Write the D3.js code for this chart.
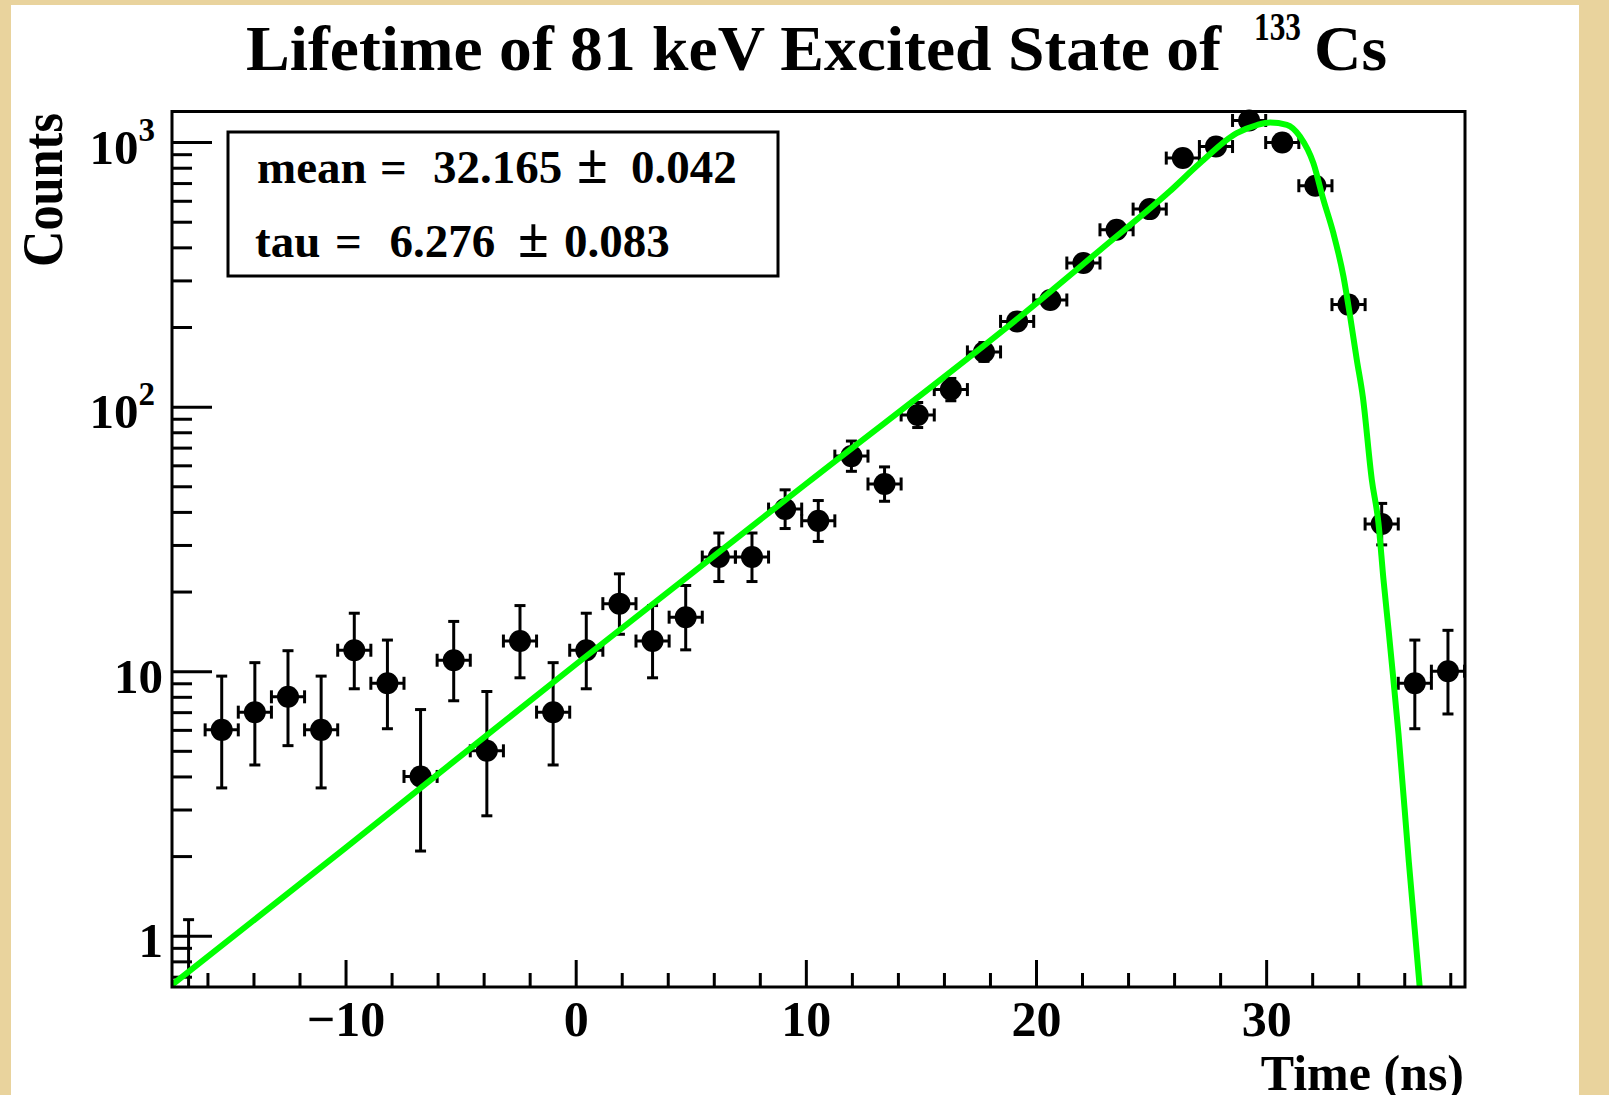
<!DOCTYPE html>
<html>
<head>
<meta charset="utf-8">
<script src="https://cdn.jsdelivr.net/npm/d3@7"></script>
<style>
body { margin: 0; background: #fff; }
svg { display: block; }
text { font-family: "Liberation Serif", "Times New Roman", serif; font-weight: bold; fill: #000; }
</style>
</head>
<body>
<svg id="chart" width="1609" height="1095"></svg>
<script>
// histogram bins (bin centre in ns, counts, poisson error bars)
var binTime = [-16.82, -15.38, -13.94, -12.50, -11.06, -9.62, -8.18, -6.74, -5.30, -3.86,
               -2.42, -0.98, 0.46, 1.90, 3.34, 4.78, 6.22, 7.66, 9.10, 10.54,
               11.98, 13.42, 14.86, 16.30, 17.74, 19.18, 20.62, 22.06, 23.50, 24.94,
               26.38, 27.82, 29.26, 30.70, 32.14, 33.58, 35.02, 36.46, 37.90];
var binCount = [0, 6, 7, 8, 6, 12, 9, 4, 11, 5,
                13, 7, 12, 18, 13, 16, 27, 27, 41, 37,
                65, 51, 93, 116, 161, 210, 253, 349, 466, 558,
                870, 962, 1207, 996, 684, 243, 36, 9, 10];
var errLow = [0, 2.38, 2.58, 2.77, 2.38, 3.42, 2.94, 1.91, 3.27, 2.16,
              3.56, 2.58, 3.42, 4.21, 3.56, 3.96, 5.18, 5.18, 6.39, 6.07,
              8.05, 7.12, 9.64, 10.77, 12.69, 14.49, 15.91, 18.68, 21.59, 23.62,
              29.50, 31.02, 34.74, 31.56, 26.15, 15.59, 5.98, 2.94, 3.11];
var errHigh = [1.15, 3.58, 3.77, 3.95, 3.58, 4.56, 4.11, 3.16, 4.42, 3.38,
               4.70, 3.77, 4.56, 5.33, 4.70, 5.08, 6.29, 6.29, 7.47, 7.16,
               9.11, 8.18, 10.67, 11.79, 13.70, 15.50, 16.91, 19.68, 22.59, 24.62,
               30.50, 32.02, 35.74, 32.56, 27.15, 16.59, 7.07, 4.11, 4.27];
var binHalfWidth = 0.72;

// green fit curve, points picked along the drawn line
var fitTime = [-17.54, -10, 0, 10, 20, 22.8, 25.8, 27.13, 28.72, 29.6, 30.17, 30.9, 31.47, 32.05,
               32.49, 32.92, 33.36, 33.65, 33.94, 34.2, 34.59, 34.88, 35.1, 35.32, 35.53, 35.75, 36.2, 36.7];
var fitValue = [0.652, 2.15, 10.6, 51, 245, 392, 650, 833, 1081, 1160, 1186, 1162, 1050, 833,
                605, 453, 310, 219, 150, 109, 53, 36.3, 22.1, 14.3, 9.27, 5.8, 1.9, 0.6];

// axes
var xMajorTicks = [-10, 0, 10, 20, 30];
var xMinorTicks = [-16, -14, -12, -8, -6, -4, -2, 2, 4, 6, 8, 12, 14, 16, 18, 22, 24, 26, 28, 32, 34, 36, 38];
var yMajorTicks = [1, 10, 100, 1000];
var yTickBase = ["1", "10", "10", "10"];
var yTickExp = ["", "", "2", "3"];
var yMinorTicks = [0.7, 0.8, 0.9, 2, 3, 4, 5, 6, 7, 8, 9, 20, 30, 40, 50, 60, 70, 80, 90,
                   200, 300, 400, 500, 600, 700, 800, 900];

var svg = d3.select("#chart");

// parchment border round the canvas
svg.append("rect").attr("width", 1609).attr("height", 1095).attr("fill", "#e9d39d");
svg.append("rect").attr("x", 11).attr("y", 5).attr("width", 1568).attr("height", 1090).attr("fill", "#fff");

var frame = {left: 172, right: 1465, top: 111.5, bottom: 987};
var x = d3.scaleLinear().domain([-17.54, 38.64]).range([frame.left, frame.right]);
var y = d3.scaleLog().domain([0.64, 1305]).range([frame.bottom, frame.top]);

svg.append("clipPath").attr("id", "clip").append("rect")
    .attr("x", frame.left).attr("y", frame.top)
    .attr("width", frame.right - frame.left).attr("height", frame.bottom - frame.top);

function styleAxis(g) {
    g.select(".domain").remove();
    g.selectAll(".tick line").attr("stroke", "#000").attr("stroke-width", 3);
}

// x axis: major ticks with labels, minor ticks without
var gxMaj = svg.append("g").attr("transform", "translate(0," + frame.bottom + ")")
    .call(d3.axisBottom(x).tickValues(xMajorTicks).tickSize(-27).tickPadding(13));
styleAxis(gxMaj);
gxMaj.selectAll("text").attr("font-size", 50)
    .attr("font-family", "'Liberation Serif', serif").attr("font-weight", "bold").attr("fill", "#000");
var gxMin = svg.append("g").attr("transform", "translate(0," + frame.bottom + ")")
    .call(d3.axisBottom(x).tickValues(xMinorTicks).tickSize(-14).tickFormat(""));
styleAxis(gxMin);

// y axis ticks pointing inwards
var gyMaj = svg.append("g").attr("transform", "translate(" + frame.left + ",0)")
    .call(d3.axisLeft(y).tickValues(yMajorTicks).tickSize(-40).tickFormat(""));
styleAxis(gyMaj);
var gyMin = svg.append("g").attr("transform", "translate(" + frame.left + ",0)")
    .call(d3.axisLeft(y).tickValues(yMinorTicks).tickSize(-20).tickFormat(""));
styleAxis(gyMin);

var yl = svg.append("g").selectAll("text").data(yMajorTicks).join("text")
    .attr("text-anchor", "end").attr("font-size", 49)
    .attr("x", function (d, i) { return yTickExp[i] ? 155 : 163; })
    .attr("y", function (d) { return y(d) + 21.5; });
yl.append("tspan").text(function (d, i) { return yTickBase[i]; });
yl.append("tspan").attr("font-size", 33).attr("dy", -23).text(function (d, i) { return yTickExp[i]; });

// data points with error bars
var pts = binTime.map(function (t, i) {
    return {t: t, n: binCount[i], lo: errLow[i], hi: errHigh[i]};
});
var gp = svg.append("g").attr("stroke", "#000").attr("stroke-width", 3).attr("fill", "#000");
var hasLow = pts.filter(function (d) { return d.n - d.lo > 0; });
var filled = pts.filter(function (d) { return d.n > 0; });

gp.selectAll(".ev").data(pts).join("line").attr("class", "ev")
    .attr("x1", function (d) { return x(d.t); }).attr("x2", function (d) { return x(d.t); })
    .attr("y1", function (d) { return d.n - d.lo > 0 ? y(d.n - d.lo) : frame.bottom; })
    .attr("y2", function (d) { return y(d.n + d.hi); });
gp.selectAll(".capt").data(pts).join("line").attr("class", "capt")
    .attr("x1", function (d) { return x(d.t) - 5.5; }).attr("x2", function (d) { return x(d.t) + 5.5; })
    .attr("y1", function (d) { return y(d.n + d.hi); }).attr("y2", function (d) { return y(d.n + d.hi); });
gp.selectAll(".capb").data(hasLow).join("line").attr("class", "capb")
    .attr("x1", function (d) { return x(d.t) - 5.5; }).attr("x2", function (d) { return x(d.t) + 5.5; })
    .attr("y1", function (d) { return y(d.n - d.lo); }).attr("y2", function (d) { return y(d.n - d.lo); });
gp.selectAll(".eh").data(filled).join("line").attr("class", "eh")
    .attr("x1", function (d) { return x(d.t - binHalfWidth); }).attr("x2", function (d) { return x(d.t + binHalfWidth); })
    .attr("y1", function (d) { return y(d.n); }).attr("y2", function (d) { return y(d.n); });
gp.selectAll(".capl").data(filled).join("line").attr("class", "capl")
    .attr("x1", function (d) { return x(d.t - binHalfWidth); }).attr("x2", function (d) { return x(d.t - binHalfWidth); })
    .attr("y1", function (d) { return y(d.n) - 6.5; }).attr("y2", function (d) { return y(d.n) + 6.5; });
gp.selectAll(".capr").data(filled).join("line").attr("class", "capr")
    .attr("x1", function (d) { return x(d.t + binHalfWidth); }).attr("x2", function (d) { return x(d.t + binHalfWidth); })
    .attr("y1", function (d) { return y(d.n) - 6.5; }).attr("y2", function (d) { return y(d.n) + 6.5; });
gp.selectAll("circle").data(filled).join("circle")
    .attr("stroke", "none")
    .attr("cx", function (d) { return x(d.t); }).attr("cy", function (d) { return y(d.n); }).attr("r", 11);

// fit curve on top
var line = d3.line()
    .x(function (d) { return x(d[0]); })
    .y(function (d) { return y(d[1]); })
    .curve(d3.curveMonotoneX);
svg.append("path").datum(d3.zip(fitTime, fitValue))
    .attr("d", line).attr("fill", "none").attr("stroke", "#00ff00").attr("stroke-width", 6)
    .attr("clip-path", "url(#clip)");

// frame
svg.append("rect").attr("x", frame.left).attr("y", frame.top)
    .attr("width", frame.right - frame.left).attr("height", frame.bottom - frame.top)
    .attr("fill", "none").attr("stroke", "#000").attr("stroke-width", 3);

// fit results box
svg.append("rect").attr("x", 228).attr("y", 132).attr("width", 550).attr("height", 144)
    .attr("fill", "#fff").attr("stroke", "#000").attr("stroke-width", 3);
var stats = [
    {y: 183, parts: [["mean", 257], ["=", 380], ["32.165", 433], ["\u00b1", 577], ["0.042", 631]]},
    {y: 257, parts: [["tau", 255], ["=", 335], ["6.276", 389.5], ["\u00b1", 518], ["0.083", 564]]}
];
var st = svg.append("g").selectAll("text").data(stats).join("text")
    .attr("font-size", 47).attr("y", function (d) { return d.y; });
st.selectAll("tspan").data(function (d) { return d.parts; }).join("tspan")
    .attr("x", function (p) { return p[1]; })
    .attr("font-size", function (p) { return p[0] === "\u00b1" ? 56 : null; })
    .text(function (p) { return p[0]; });

// titles
svg.append("text").attr("x", 246).attr("y", 70).attr("font-size", 64)
    .attr("textLength", 975).attr("lengthAdjust", "spacingAndGlyphs")
    .text("Lifetime of 81 keV Excited State of");
svg.append("text").attr("x", 1254).attr("y", 40).attr("font-size", 40)
    .attr("textLength", 47).attr("lengthAdjust", "spacingAndGlyphs").text("133");
svg.append("text").attr("x", 1314).attr("y", 70).attr("font-size", 64)
    .attr("textLength", 73).attr("lengthAdjust", "spacingAndGlyphs").text("Cs");

svg.append("text").attr("x", 1464).attr("y", 1090).attr("font-size", 50)
    .attr("text-anchor", "end").text("Time (ns)");
svg.append("text").attr("transform", "translate(62,113) rotate(-90)").attr("font-size", 58)
    .attr("text-anchor", "end").attr("textLength", 154).attr("lengthAdjust", "spacingAndGlyphs")
    .text("Counts");
</script>
</body>
</html>
